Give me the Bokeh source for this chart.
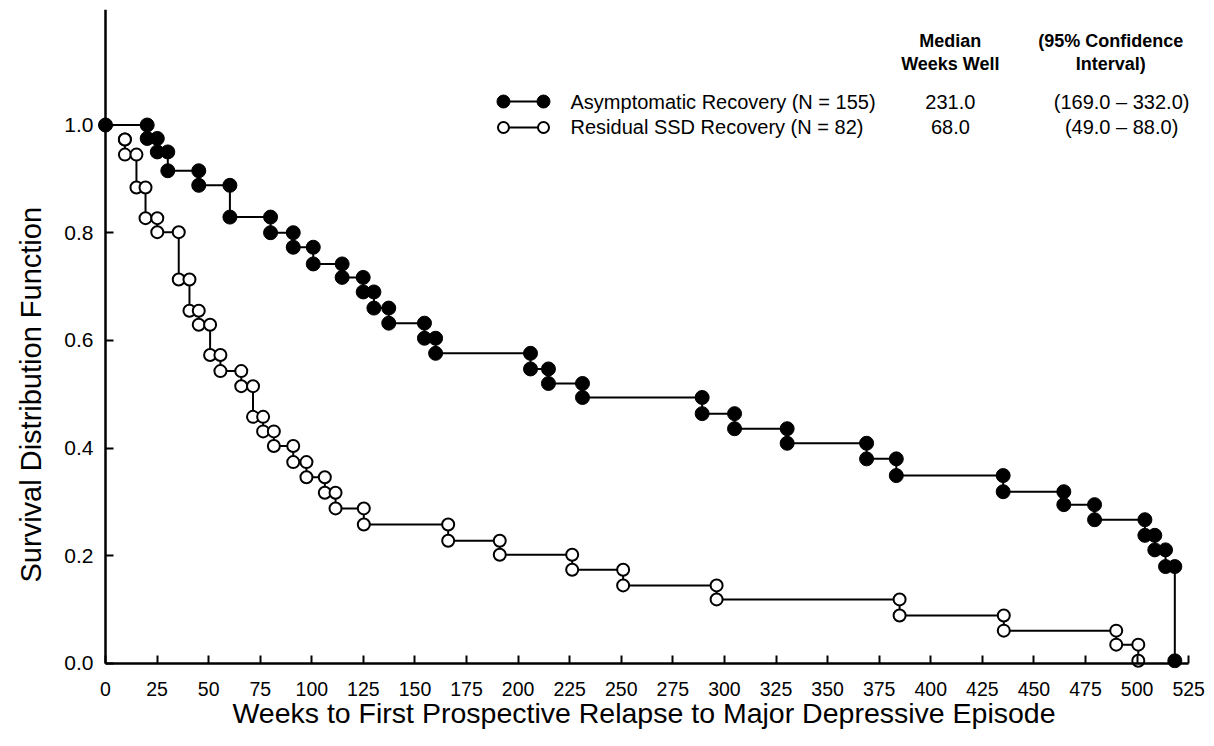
from bokeh.plotting import figure
from bokeh.models import Range1d, FixedTicker, NumeralTickFormatter, LinearAxis, Title
from bokeh.core.properties import value
from bokeh.embed import file_html
from bokeh.resources import INLINE

# ---------------- data ----------------
asym_start_time = 0.0
asym_start_surv = 1.0
asym_times = [20.2, 25.1, 30.2, 45.2, 60.3, 80.0, 91.0, 100.7, 114.7, 124.9,
              130.1, 137.3, 154.6, 160.0, 206.0, 214.7, 231.2, 289.2, 304.9, 330.4,
              368.9, 383.3, 435.1, 464.5, 479.4, 503.8, 508.6, 513.8, 518.3]
asym_surv = [0.975, 0.950, 0.915, 0.888, 0.829, 0.800, 0.773, 0.742, 0.717, 0.690,
             0.660, 0.632, 0.604, 0.576, 0.547, 0.520, 0.494, 0.464, 0.436, 0.409,
             0.380, 0.349, 0.319, 0.295, 0.267, 0.238, 0.211, 0.180, 0.005]

res_start_time = 9.4
res_start_surv = 0.973
res_times = [9.4, 15.0, 19.4, 25.1, 35.5, 40.7, 45.2, 50.7, 55.7, 65.8,
             71.5, 76.4, 81.6, 91.0, 97.4, 106.3, 111.5, 125.2, 166.1, 191.1,
             226.2, 250.9, 296.2, 384.9, 435.4, 489.9, 500.6]
res_surv = [0.945, 0.884, 0.827, 0.801, 0.713, 0.655, 0.629, 0.573, 0.543, 0.515,
            0.458, 0.431, 0.404, 0.374, 0.346, 0.317, 0.288, 0.258, 0.228, 0.202,
            0.174, 0.145, 0.119, 0.089, 0.061, 0.035, 0.005]

x_ticks = [0, 25, 50, 75, 100, 125, 150, 175, 200, 225, 250, 275, 300, 325, 350,
           375, 400, 425, 450, 475, 500, 525]
y_ticks = [0.0, 0.2, 0.4, 0.6, 0.8, 1.0]

group_labels = ["Asymptomatic Recovery (N = 155)", "Residual SSD Recovery (N = 82)"]
median_weeks = ["231.0", "68.0"]
conf_intervals = ["(169.0 \u2013 332.0)", "(49.0 \u2013 88.0)"]
median_header = ["Median", "Weeks Well"]
ci_header = ["(95% Confidence", "Interval)"]

x_title = "Weeks to First Prospective Relapse to Major Depressive Episode"
y_title = "Survival Distribution Function"


def km_path(t0, s0, times, surv):
    xs, ys = [t0], [s0]
    s = s0
    for t, sv in zip(times, surv):
        xs += [t, t]
        ys += [s, sv]
        s = sv
    return xs, ys


# ---------------- layout / style ----------------
FONT = "Liberation Sans"
X0, X1 = -3.878, 525.9
Y0, Y1 = -0.00929, 1.2145

p = figure(frame_width=1093, frame_height=659,
           x_range=Range1d(X0, X1), y_range=Range1d(Y0, Y1),
           x_axis_type=None, y_axis_type=None,
           min_border_left=97, min_border_right=16, min_border_top=9, min_border_bottom=72,
           output_backend="svg", toolbar_location=None)
p.title.visible = False
p.outline_line_color = None
p.background_fill_color = "white"
p.border_fill_color = "white"

# axis lines + inward ticks, drawn at x = 0 / y = 0
x_line_axis = LinearAxis(fixed_location=0, bounds=(0, 525), ticker=FixedTicker(ticks=x_ticks))
y_line_axis = LinearAxis(fixed_location=0, bounds=(0, Y1), ticker=FixedTicker(ticks=y_ticks))
for ax in (x_line_axis, y_line_axis):
    ax.major_tick_in = 8
    ax.major_tick_out = 0
    ax.minor_tick_in = 0
    ax.minor_tick_out = 0
    ax.axis_line_width = 2.5
    ax.axis_line_color = "black"
    ax.major_tick_line_width = 2
    ax.major_tick_line_color = "black"
    ax.major_label_text_color = None
p.add_layout(x_line_axis, "below")
p.add_layout(y_line_axis, "left")

# tick labels (+ x title)
x_lab_axis = LinearAxis(bounds=(0, 525), ticker=FixedTicker(ticks=x_ticks), axis_label=x_title)
y_lab_axis = LinearAxis(bounds=(0, 1.0), ticker=FixedTicker(ticks=y_ticks),
                        formatter=NumeralTickFormatter(format="0.0"))
for ax in (x_lab_axis, y_lab_axis):
    ax.axis_line_color = None
    ax.major_tick_line_color = None
    ax.minor_tick_line_color = None
    ax.major_tick_in = 0
    ax.major_tick_out = 0
    ax.minor_tick_in = 0
    ax.minor_tick_out = 0
    ax.major_label_text_font = FONT
    ax.major_label_text_color = "black"
    ax.axis_label_text_font = FONT
    ax.axis_label_text_font_style = "normal"
    ax.axis_label_text_color = "black"
x_lab_axis.major_label_text_font_size = "19.5px"
x_lab_axis.major_label_standoff = 13
x_lab_axis.axis_label_text_font_size = "28.5px"
x_lab_axis.axis_label_standoff = -2
y_lab_axis.major_label_text_font_size = "21px"
y_lab_axis.major_label_standoff = 4
p.add_layout(x_lab_axis, "below")
p.add_layout(y_lab_axis, "left")

# y title, placed beside the 0-1 span of the axis
p.add_layout(Title(text=y_title, align="left", offset=86, vertical_align="middle",
                   text_font=FONT, text_font_size="29px", text_font_style="normal",
                   text_color="black", standoff=27), "left")

# survival curves
ax_x, ax_y = km_path(asym_start_time, asym_start_surv, asym_times, asym_surv)
rs_x, rs_y = km_path(res_start_time, res_start_surv, res_times, res_surv)

p.line(ax_x, ax_y, line_width=2, line_color="black")
p.scatter(ax_x, ax_y, size=14, fill_color="black", line_color="black", line_width=1)
p.line(rs_x, rs_y, line_width=2, line_color="black")
p.scatter(rs_x, rs_y, size=12, fill_color="white", line_color="black", line_width=2)

# legend / table (top right)
LEG_X0, LEG_X1 = 192.9, 212.3
ROW_Y = [1.0436, 0.9954]
TXT_X = 225.4
MED_X = 409.5
CI_X = 492.5
CI_HDR_X = 487.2
HDR_Y = [1.1569, 1.1142]

p.line([LEG_X0, LEG_X1], [ROW_Y[0]] * 2, line_width=2, line_color="black")
p.scatter([LEG_X0, LEG_X1], [ROW_Y[0]] * 2, size=13, fill_color="black", line_color="black")
p.line([LEG_X0, LEG_X1], [ROW_Y[1]] * 2, line_width=2, line_color="black")
p.scatter([LEG_X0, LEG_X1], [ROW_Y[1]] * 2, size=11, fill_color="white", line_color="black",
          line_width=2)

p.text(x=[TXT_X] * 2, y=ROW_Y, text=group_labels, text_font=value(FONT),
       text_font_size="20px", text_align="left", text_baseline="middle", text_color="black")
p.text(x=[MED_X] * 2, y=ROW_Y, text=median_weeks, text_font=value(FONT),
       text_font_size="20px", text_align="center", text_baseline="middle", text_color="black")
p.text(x=[CI_X] * 2, y=ROW_Y, text=conf_intervals, text_font=value(FONT),
       text_font_size="20px", text_align="center", text_baseline="middle", text_color="black")
p.text(x=[MED_X] * 2, y=HDR_Y, text=median_header, text_font=value(FONT),
       text_font_size="18px", text_font_style="bold", text_align="center",
       text_baseline="middle", text_color="black")
p.text(x=[CI_HDR_X] * 2, y=HDR_Y, text=ci_header, text_font=value(FONT),
       text_font_size="18px", text_font_style="bold", text_align="center",
       text_baseline="middle", text_color="black")

open("out.html", "w").write(file_html(p, INLINE))
